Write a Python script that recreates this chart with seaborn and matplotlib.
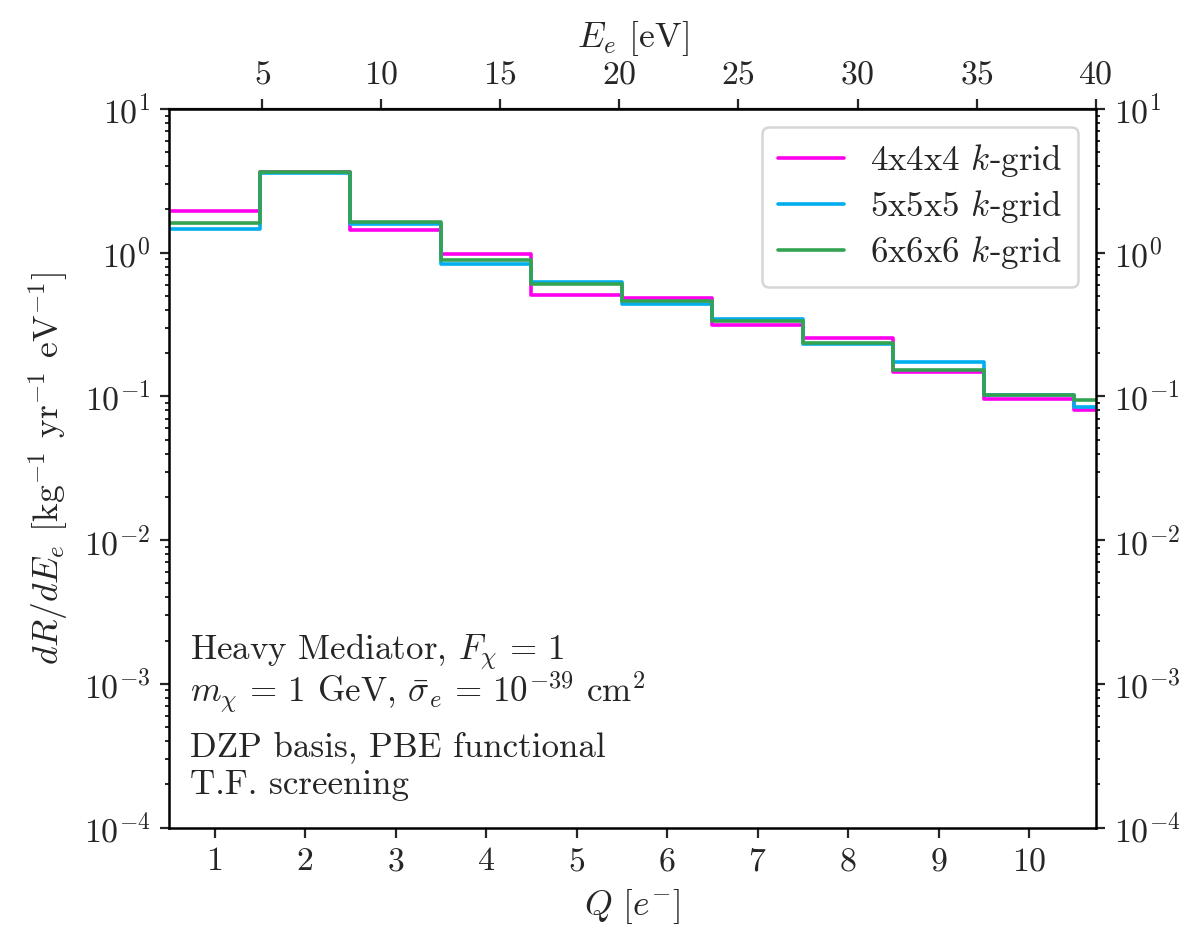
import numpy as np
import pandas as pd
import matplotlib
matplotlib.use("Agg")
import matplotlib.pyplot as plt
import seaborn as sns

# ---- data ----
Q_bins = [1, 2, 3, 4, 5, 6, 7, 8, 9, 10, 11]
rate_4x4x4 = [1.96, 3.63, 1.44, 0.975, 0.508, 0.487, 0.313, 0.254, 0.148, 0.096, 0.081]
rate_5x5x5 = [1.46, 3.60, 1.58, 0.834, 0.622, 0.440, 0.344, 0.232, 0.174, 0.103, 0.084]
rate_6x6x6 = [1.61, 3.63, 1.65, 0.890, 0.608, 0.459, 0.337, 0.236, 0.152, 0.102, 0.094]
grid_labels = ["4x4x4 $k$-grid", "5x5x5 $k$-grid", "6x6x6 $k$-grid"]
colors = ["#ff00ee", "#00aeef", "#33a352"]
E_gap = 1.1      # eV
eps_pair = 3.8   # eV per e-h pair
E_ticks = [5, 10, 15, 20, 25, 30, 35, 40]
y_ticks = [1e-4, 1e-3, 1e-2, 1e-1, 1e0, 1e1]

# build long-form table with bin edges (steps-post)
rows = []
for lab, vals in zip(grid_labels, [rate_4x4x4, rate_5x5x5, rate_6x6x6]):
    edges = [q - 0.5 for q in Q_bins] + [Q_bins[-1] + 0.5]
    vv = list(vals) + [vals[-1]]
    for e, v in zip(edges, vv):
        rows.append({"Q": e, "rate": v, "grid": lab})
df = pd.DataFrame(rows)

sns.set_style("ticks")
plt.rcParams["font.family"] = "serif"
plt.rcParams["font.serif"] = ["cmr10", "DejaVu Serif"]
plt.rcParams["mathtext.fontset"] = "cm"
plt.rcParams["axes.formatter.use_mathtext"] = True
plt.rcParams["font.size"] = 12.5
plt.rcParams["axes.unicode_minus"] = False

TICK = 12.2
TXT = 12.6
LAB = 12.8

fig = plt.figure(figsize=(5.99, 4.66), dpi=200)
ax = fig.add_axes([0.1413, 0.112, 0.7733, 0.771])

sns.lineplot(data=df, x="Q", y="rate", hue="grid", hue_order=grid_labels,
             palette=dict(zip(grid_labels, colors)), estimator=None,
             drawstyle="steps-post", linewidth=1.3, ax=ax)

ax.set_yscale("log")
ax.set_ylim(1e-4, 1e1)
xmax = 0.5 + (E_ticks[-1] - E_gap) / eps_pair
ax.set_xlim(0.5, xmax)
ax.set_xticks(range(1, 11))
ax.set_yticks(y_ticks)
ax.tick_params(axis="y", which="both", left=True, right=True, labelright=True,
               direction="out")
ax.tick_params(axis="y", which="major", length=3.2, width=0.8)
ax.tick_params(axis="y", which="minor", length=1.6, width=0.7)
ax.tick_params(axis="x", which="major", length=3.5, width=0.8)
ax.tick_params(axis="both", labelsize=TICK)

ax.set_xlabel(r"$Q\ [e^{-}]$", fontsize=LAB)
ax.set_ylabel(r"$dR/dE_e$ [kg$^{-1}$ yr$^{-1}$ eV$^{-1}$]", fontsize=LAB,
              labelpad=5)

sec = ax.secondary_xaxis("top",
                         functions=(lambda q: E_gap + eps_pair * (q - 0.5),
                                    lambda e: 0.5 + (e - E_gap) / eps_pair))
sec.set_xticks(E_ticks)
sec.tick_params(labelsize=TICK, length=3.5, width=0.8)
sec.set_xlabel(r"$E_e$ [eV]", fontsize=LAB, labelpad=5)

for s in ax.spines.values():
    s.set_linewidth(0.9)
    s.set_color("black")

leg = ax.legend(loc="upper right", fontsize=TXT, handlelength=1.9,
                handletextpad=0.75, labelspacing=0.26, borderpad=0.45,
                frameon=True, fancybox=True, edgecolor="0.8")
leg.get_frame().set_linewidth(0.9)

tx = 0.022
ax.text(tx, 0.244, r"Heavy Mediator, $F_\chi\,=\,1$", transform=ax.transAxes,
        va="center", ha="left", fontsize=TXT)
ax.text(tx, 0.189, r"$m_\chi\,=\,1$ GeV, $\bar{\sigma}_e\,=\,10^{-39}$ cm$^2$",
        transform=ax.transAxes, va="center", ha="left", fontsize=TXT)
ax.text(tx, 0.111, "DZP basis, PBE functional", transform=ax.transAxes,
        va="center", ha="left", fontsize=TXT)
ax.text(tx, 0.059, "T.F. screening", transform=ax.transAxes,
        va="center", ha="left", fontsize=TXT)

fig.savefig("out.png", dpi=200)
